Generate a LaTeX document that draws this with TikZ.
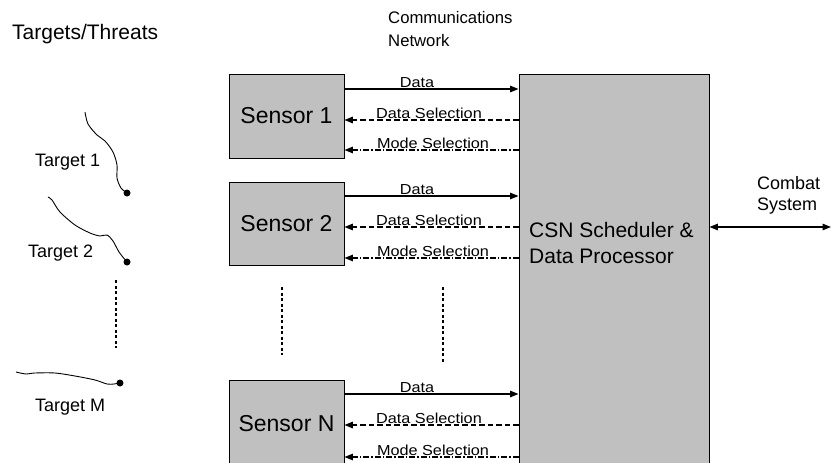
\documentclass[tikz,border=0pt]{standalone}
\usepackage{fontspec}
\setmainfont{Liberation Sans}
\newfontfamily\widesans[FakeStretch=1.12]{Liberation Sans}
\usetikzlibrary{arrows.meta}
\definecolor{boxgray}{RGB}{192,192,192}

\begin{document}
\begin{tikzpicture}[x=1pt,y=-1pt,
  box/.style={draw=black,fill=boxgray,line width=0.9pt,inner sep=0pt},
  sensor/.style={box,minimum width=115pt,font=\fontsize{23}{27}\selectfont},
  lbl/.style={anchor=base,inner sep=0pt,font=\widesans\fontsize{14.5}{18}\selectfont},
  txt/.style={anchor=base west,inner sep=0pt,align=left},
  tip/.style={-{Triangle[length=8.5pt,width=6.5pt]}},
  datal/.style={tip,line width=1.3pt},
  dsel/.style={tip,line width=1.5pt,dash pattern=on 5.5pt off 3pt},
  msel/.style={tip,line width=1.3pt,dash pattern=on 6pt off 2pt on 1.5pt off 2pt},
  gap/.style={line width=1.2pt,dash pattern=on 3pt off 2.5pt}]
  \useasboundingbox (0,0) rectangle (833,463);
  \clip (0,0) rectangle (833,463);

  % headings
  \node[txt,font=\fontsize{21}{24}\selectfont] (threats) at (12,39) {Targets/Threats};
  \node[txt,font=\fontsize{16.7}{23}\selectfont] (network) at (388,46) {Communications\\Network};

  % targets
  \draw[line width=0.9pt] plot[smooth] coordinates {(85,112) (88,124) (97,135) (105,141) (113,152) (117,165) (117,178) (121,188) (127,193)};
  \fill (127,193) circle (3.5);
  \node[txt,font=\fontsize{18}{21}\selectfont] (t1) at (35,166) {Target 1};
  \draw[line width=0.9pt] plot[smooth] coordinates {(48,197) (52,200) (60,212) (75,225) (90,233) (100,236) (107,235) (113,241) (119,252) (127,262)};
  \fill (127,262) circle (3.5);
  \node[txt,font=\fontsize{18}{21}\selectfont] (t2) at (28,257) {Target 2};
  \draw[gap] (116,280) -- (116,348);
  \draw[line width=0.9pt] plot[smooth] coordinates {(16,372) (26,374) (35,373) (55,373) (75,376) (95,380) (107,384) (114,384) (120,383)};
  \fill (120,383) circle (3.5);
  \node[txt,font=\fontsize{18}{21}\selectfont] (tm) at (35,411) {Target M};

  % sensors and scheduler
  \node[sensor,minimum height=84pt] (s1) at (286.5,116) {Sensor 1};
  \node[sensor,minimum height=83pt] (s2) at (286.5,223.5) {Sensor 2};
  \node[sensor,minimum height=88pt] (sn) at (286.5,424) {Sensor N};
  \node[box,minimum width=190pt,minimum height=410pt] (csn) at (614,279) {};
  \node[txt,font=\fontsize{21}{26}\selectfont] (csnlbl) at (529,263) {CSN Scheduler \&\\Data Processor};

  % links, sensor 1
  \draw[datal] (s1.east |- 0,89) -- (csn.west |- 0,89);
  \draw[dsel] (csn.west |- 0,120) -- (s1.east |- 0,120);
  \draw[msel] (csn.west |- 0,150) -- (s1.east |- 0,150);
  \node[lbl] (d1) at (417,87) {Data};
  \node[lbl] (ds1) at (429,118) {Data Selection};
  \node[lbl] (ms1) at (433,148) {Mode Selection};

  % links, sensor 2
  \draw[datal] (s2.east |- 0,196) -- (csn.west |- 0,196);
  \draw[dsel] (csn.west |- 0,227) -- (s2.east |- 0,227);
  \draw[msel] (csn.west |- 0,258) -- (s2.east |- 0,258);
  \node[lbl] (d2) at (417,194) {Data};
  \node[lbl] (ds2) at (429,225) {Data Selection};
  \node[lbl] (ms2) at (433,256) {Mode Selection};

  \draw[gap] (282,287) -- (282,355);
  \draw[gap] (443,287) -- (443,362);

  % links, sensor N
  \draw[datal] (sn.east |- 0,394) -- (csn.west |- 0,394);
  \draw[dsel] (csn.west |- 0,425) -- (sn.east |- 0,425);
  \draw[msel] (csn.west |- 0,457) -- (sn.east |- 0,457);
  \node[lbl] (dn) at (417,392) {Data};
  \node[lbl] (dsn) at (429,423) {Data Selection};
  \node[lbl] (msn) at (433,455) {Mode Selection};

  % combat system
  \coordinate (cs) at (831,227);
  \draw[{Triangle[length=8.5pt,width=6.5pt]}-{Triangle[length=8.5pt,width=6.5pt]},line width=1.3pt] (csn.east |- 0,227) -- (cs);
  \node[txt,font=\fontsize{18}{21}\selectfont] (combat) at (757,210) {Combat\\System};
\end{tikzpicture}
\end{document}
